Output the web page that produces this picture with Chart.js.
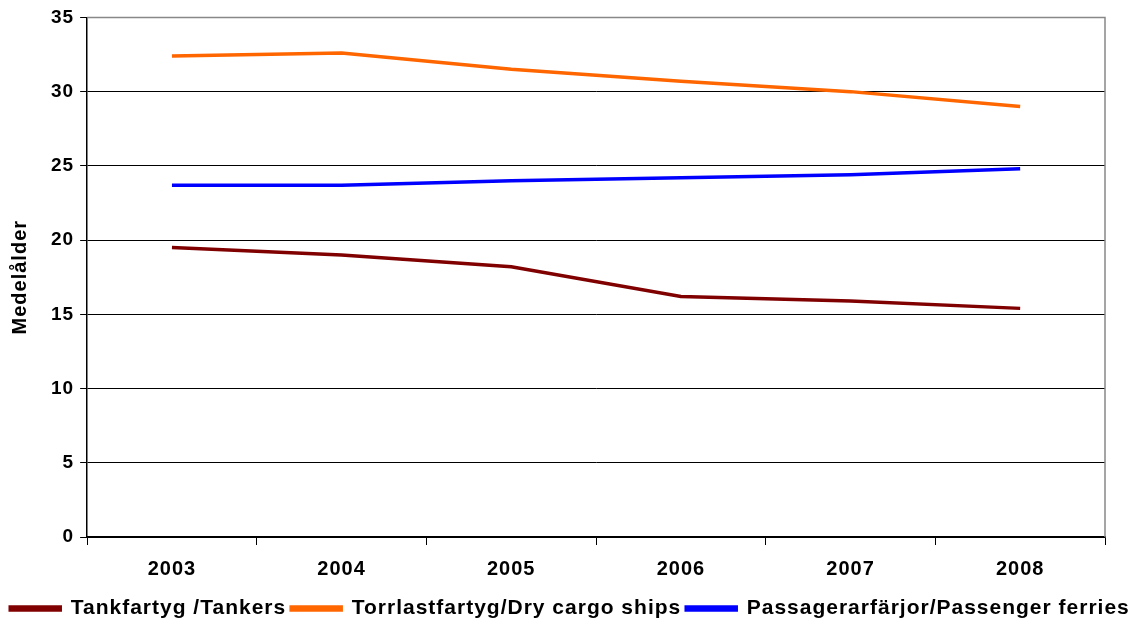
<!DOCTYPE html>
<html>
<head>
<meta charset="utf-8">
<script src="https://cdn.jsdelivr.net/npm/chart.js@4/dist/chart.umd.min.js"></script>
<style>
  html, body { margin: 0; padding: 0; background: #fff; }
  #wrap { width: 1140px; height: 624px; }
</style>
</head>
<body>
<div id="wrap"><canvas id="ageChart"></canvas></div>
<script>
// Medelålder per fartygstyp
const years = ['2003', '2004', '2005', '2006', '2007', '2008'];
const tankers = [19.5, 19.0, 18.2, 16.2, 15.9, 15.4];
const dryCargo = [32.4, 32.6, 31.5, 30.7, 30.0, 29.0];
const ferries = [23.7, 23.7, 24.0, 24.2, 24.4, 24.8];

const family = 'Liberation Sans, Arial, sans-serif';
const tickFont = { family: family, weight: 'bold', size: 19 };
const xFont = { family: family, weight: 'bold', size: 20 };
const legendFont = { family: family, weight: 'bold', size: 21 };

// the original text is slightly letter-spaced
const spacing = {
  id: 'spacing',
  beforeLayout(chart) { chart.ctx.letterSpacing = '1px'; },
  beforeDraw(chart) { chart.ctx.letterSpacing = '1px'; }
};

// gray frame on top and right of plot area
const frame = {
  id: 'frame',
  afterDraw(chart) {
    const { ctx, chartArea: a } = chart;
    ctx.save();
    ctx.strokeStyle = '#888';
    ctx.lineWidth = 1.5;
    ctx.beginPath();
    ctx.moveTo(a.left, a.top);
    ctx.lineTo(a.right, a.top);
    ctx.lineTo(a.right, a.bottom);
    ctx.stroke();
    ctx.restore();
  }
};

function series(label, data, color) {
  return {
    label: label,
    data: data,
    borderColor: color,
    backgroundColor: color,
    borderWidth: 3.5,
    pointRadius: 0,
    tension: 0,
    fill: false
  };
}

const ageChart = new Chart(document.getElementById('ageChart'), {
  type: 'line',
  data: {
    labels: years,
    datasets: [
      series('Tankfartyg /Tankers', tankers, '#800000'),
      series('Torrlastfartyg/Dry cargo ships', dryCargo, '#ff6600'),
      series('Passagerarfärjor/Passenger ferries', ferries, '#0000ff')
    ]
  },
  options: {
    responsive: true,
    maintainAspectRatio: false,
    animation: false,
    layout: { padding: { top: 8, right: 0, left: 0, bottom: -5 } },
    plugins: {
      legend: {
        position: 'bottom',
        labels: {
          color: '#000',
          font: legendFont,
          boxWidth: 50,
          boxHeight: 3,
          padding: 5
        }
      },
      tooltip: { enabled: false }
    },
    scales: {
      x: {
        offset: true,
        grid: {
          offset: true,
          drawOnChartArea: false,
          color: '#000',
          tickLength: 8
        },
        border: { color: '#000', width: 1.5 },
        ticks: { color: '#000', font: xFont, padding: 12 }
      },
      y: {
        min: 0,
        max: 35,
        ticks: { stepSize: 5, color: '#000', font: tickFont, padding: 6 },
        grid: { color: '#000', lineWidth: 1, tickLength: 7 },
        border: { color: '#000', width: 1.5 },
        title: {
          display: true,
          text: 'Medelålder',
          color: '#000',
          font: { family: family, weight: 'bold', size: 20 },
          padding: { top: 8, bottom: 6 }
        },
        afterFit(scale) { scale.width += 7; }
      },
      // empty axis, only keeps a margin right of the plot
      spacer: {
        position: 'right',
        grid: { display: false },
        border: { display: false },
        ticks: { display: false },
        afterFit(scale) { scale.width = 35; }
      }
    }
  },
  plugins: [spacing, frame]
});
</script>
</body>
</html>
